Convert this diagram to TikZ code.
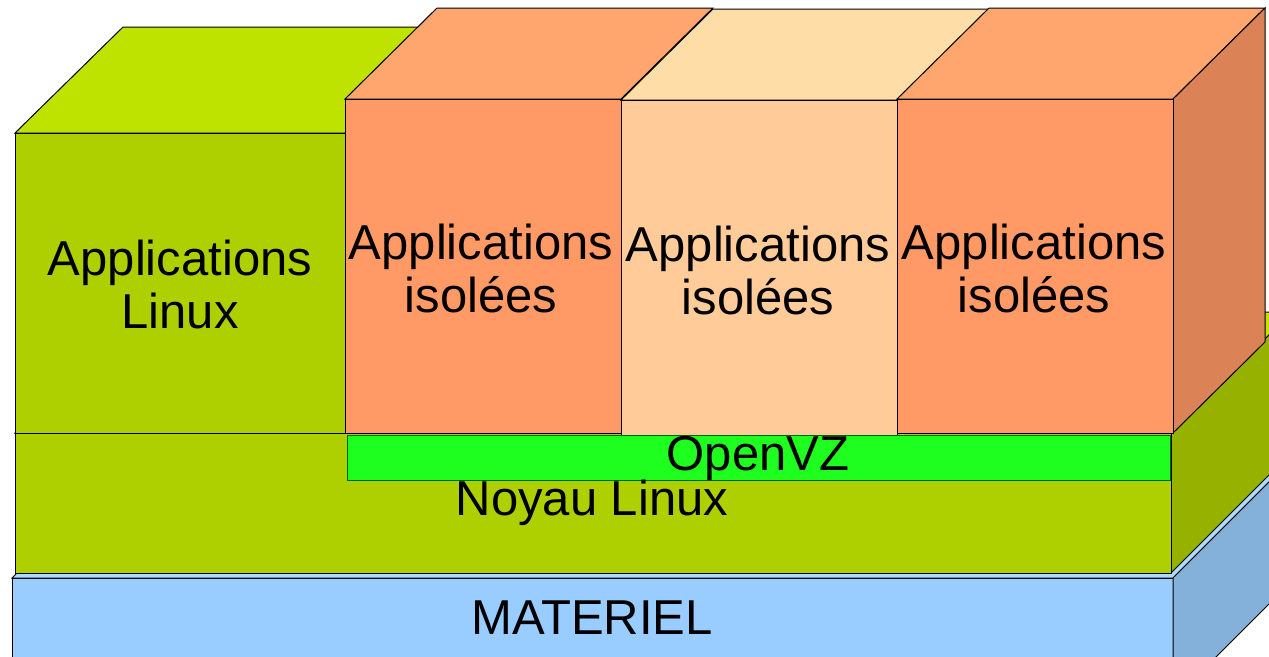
\documentclass[tikz,border=0pt]{standalone}
\usepackage{fontspec}
\setmainfont{Liberation Sans}
\definecolor{appfront}{RGB}{175,208,0}
\definecolor{apptop}{RGB}{191,227,0}
\definecolor{appside}{RGB}{150,177,0}
\definecolor{orfront}{RGB}{255,153,102}
\definecolor{ortop}{RGB}{255,165,110}
\definecolor{orside}{RGB}{219,130,87}
\definecolor{pefront}{RGB}{255,204,153}
\definecolor{petop}{RGB}{254,221,166}
\definecolor{ovz}{RGB}{31,255,31}
\definecolor{blfront}{RGB}{153,204,255}
\definecolor{bltop}{RGB}{170,221,255}
\definecolor{blside}{RGB}{132,177,218}
\tikzset{
  face/.style={draw=black,line width=1pt,line join=miter},
  lbl/.style={inner sep=0pt,align=center,font=\fontsize{49}{53}\selectfont,text=black}
}
\begin{document}
\begin{tikzpicture}[x=1pt,y=-1pt]
\useasboundingbox (0,0) rectangle (1269,656);
\clip (0,0) rectangle (1269,656);
% blue hardware box
\filldraw[face,fill=blfront] (12,578) -- (1173,578) -- (1173,700) -- (12,700) -- cycle;
\filldraw[face,fill=bltop] (12,578) -- (212,378) -- (1373,378) -- (1173,578) -- cycle;
\filldraw[face,fill=blside] (1173,578) -- (1373,378) -- (1373,500) -- (1173,700) -- cycle;
% kernel box
\filldraw[face,fill=apptop] (15,433) -- (136,312) -- (1292,312) -- (1171,433) -- cycle;
\filldraw[face,fill=appside] (1171,433) -- (1292,312) -- (1292,452) -- (1171,573) -- cycle;
\filldraw[face,fill=appfront] (15,433) -- (1171,433) -- (1171,573) -- (15,573) -- cycle;
% Linux applications box
\filldraw[face,fill=apptop] (15,133) -- (123,27) -- (453,27) -- (345,133) -- cycle;
\filldraw[face,fill=appfront] (15,133) -- (345,133) -- (345,433) -- (15,433) -- cycle;
% isolated boxes
\filldraw[face,fill=ortop] (345,99) -- (437,8) -- (713,8) -- (621,99) -- cycle;
\filldraw[face,fill=orfront] (345,99) -- (621,99) -- (621,433) -- (345,433) -- cycle;
\filldraw[face,fill=petop] (621,100) -- (713,9) -- (989,9) -- (897,100) -- cycle;
\filldraw[face,fill=pefront] (621,100) -- (897,100) -- (897,435) -- (621,435) -- cycle;
\filldraw[face,fill=ortop] (897,99) -- (989,8) -- (1265,8) -- (1173,99) -- cycle;
\filldraw[face,fill=orside] (1173,99) -- (1265,8) -- (1265,342) -- (1173,433) -- cycle;
\filldraw[face,fill=orfront] (897,99) -- (1173,99) -- (1173,433) -- (897,433) -- cycle;
% OpenVZ layer
\filldraw[line width=1pt,draw=black!60!green,fill=ovz] (347,435) rectangle (1170,480);
% labels
\node[lbl] (applinux) at (180,284) {Applications\\Linux};
\node[lbl] (iso1) at (481,268) {Applications\\isolées};
\node[lbl] (iso2) at (758,270) {Applications\\isolées};
\node[lbl] (iso3) at (1034,268) {Applications\\isolées};
\node[lbl] (openvz) at (758,458) {OpenVZ};
\node[lbl] (noyau) at (592,503) {Noyau Linux};
\node[lbl] (materiel) at (592,618) {MATERIEL};
\end{tikzpicture}
\end{document}
